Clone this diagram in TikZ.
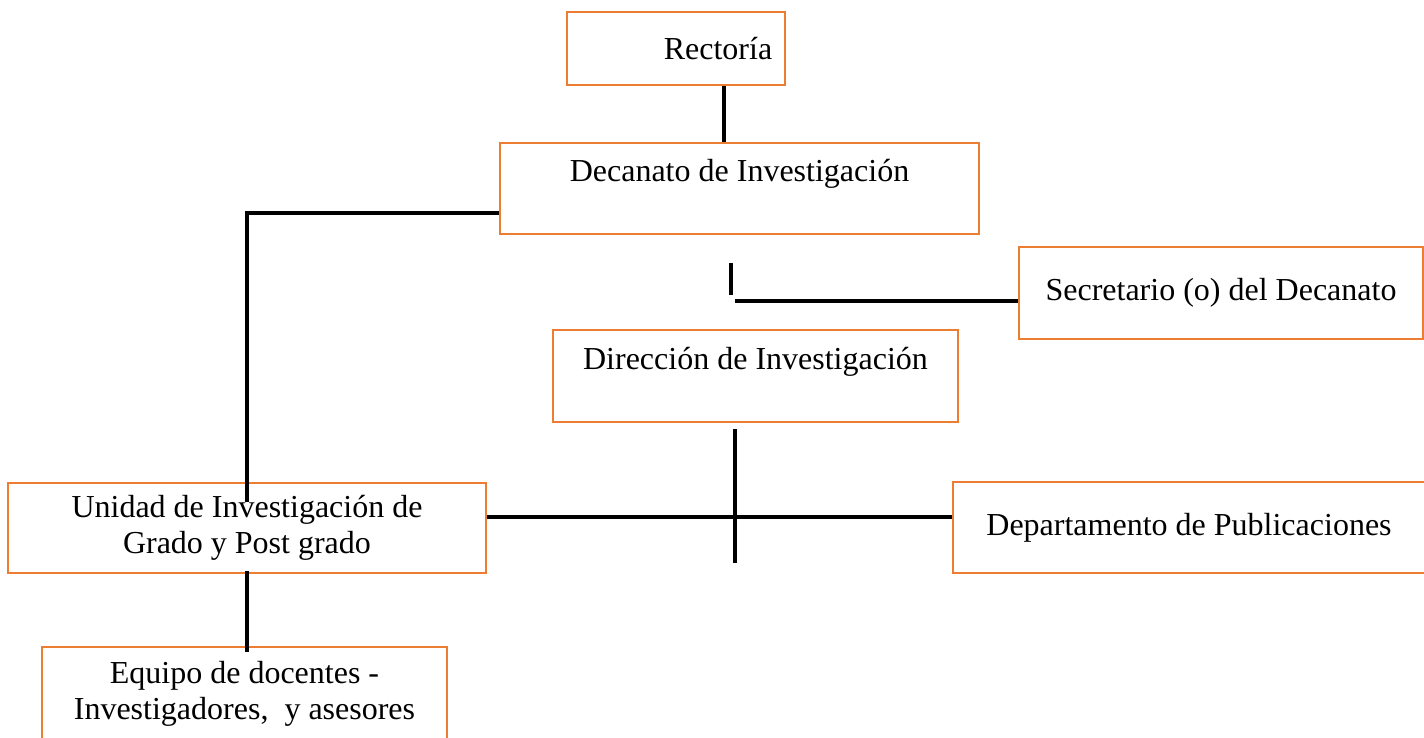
\documentclass[tikz,border=0pt]{standalone}
\usepackage{fontspec}
\setmainfont{Liberation Serif}
\usepackage{tikz}
\definecolor{naranja}{RGB}{237,125,49}

\begin{document}
\begin{tikzpicture}[x=0.5pt, y=-0.5pt,
	caja/.style={draw=naranja, line width=1.4pt, rectangle, inner sep=0pt, align=center, font=\fontsize{16}{18}\selectfont},
	linea/.style={line width=2.2pt, black}]
			\useasboundingbox (0,0) rectangle (1424,738);
			\begin{scope}
			% cajas
			\node[caja, minimum width=109pt, minimum height=36.5pt] (rect) at (676,48.5) {\hspace*{42pt}Rectoría};
			\node[caja, minimum width=239.5pt, minimum height=45.5pt] (decan) at (739.5,188.5) {Decanato de Investigación\\ \phantom{X}};
			\node[caja, minimum width=202pt, minimum height=46pt] (secre) at (1221,293) {Secretario (o) del Decanato};
			\node[caja, minimum width=202.5pt, minimum height=46pt] (direc) at (755.5,376) {Dirección de Investigación\\ \phantom{X}};
			\node[caja, minimum width=239pt, minimum height=45pt] (unidad) at (247,528) {Unidad de Investigación de\\Grado y Post grado};
			\node[caja, minimum width=236pt, minimum height=45.5pt] (depto) at (1189,527.5) {Departamento de Publicaciones};
			\node[caja, minimum width=202.5pt, minimum height=47pt] (equipo) at (244.5,694) {Equipo de docentes -\\Investigadores,\ \ y asesores};
			
			% puntos sueltos
			\coordinate (rbaja) at ([xshift=24pt]rect.south);
			\coordinate (dizq) at ([yshift=-12.25pt]decan.west);
			\coordinate (tarriba) at (731,263);
			\coordinate (tabajo) at (731,295);
			\coordinate (spie) at (735,301);
			\coordinate (darriba) at (735,429);
			\coordinate (dabajo) at (735,563);
			\coordinate (uder) at ([yshift=5.5pt]unidad.east);
			
			\draw[linea] (rbaja) -- (rbaja |- decan.north); % rectoria a decanato
			\draw[linea] (dizq) -| ([yshift=-10pt]unidad.north); % decanato a unidad
			\draw[linea] ([yshift=1.5pt]unidad.south) -- ([yshift=-3pt]unidad.south |- equipo.north); % unidad a equipo
			\draw[linea] (tarriba) -- (tabajo); % trazo corto
			\draw[linea] ([yshift=-4pt]secre.west) -- (spie); % al secretario
			\draw[linea] (darriba) -- (dabajo); % bajo direccion
			\draw[linea] (uder) -- (uder -| depto.west); % unidad a departamento
			\end{scope}
			\end{tikzpicture}
\end{document}
